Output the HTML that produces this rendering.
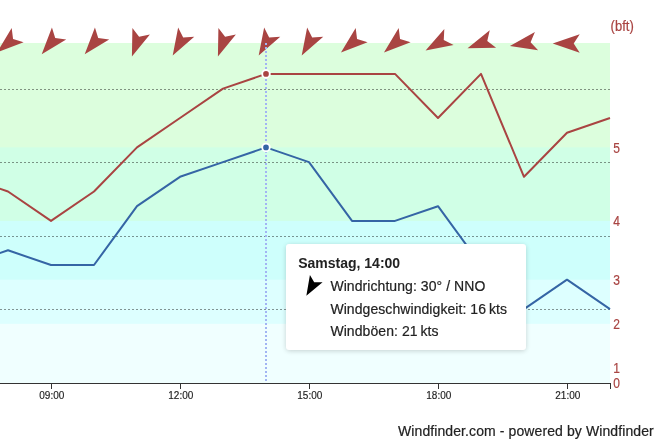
<!DOCTYPE html>
<html><head><meta charset="utf-8"><title>Windfinder</title>
<style>
html,body{margin:0;padding:0;background:#fff;overflow:hidden;}
body{width:659px;height:444px;}
svg{display:block;font-family:"Liberation Sans",Arial,Helvetica,sans-serif;}
</style></head><body>
<svg width="659" height="444" viewBox="0 0 659 444">
<defs><clipPath id="pc"><rect x="0" y="0" width="611" height="384"/></clipPath><filter id="sh" x="-10%" y="-10%" width="120%" height="130%"><feGaussianBlur stdDeviation="2.5"/></filter></defs>
<rect x="0" y="43.00" width="610" height="340.00" fill="#dcfedd"/>
<rect x="0" y="147.40" width="610" height="235.60" fill="#d0ffe6"/>
<rect x="0" y="220.90" width="610" height="162.10" fill="#cefffc"/>
<rect x="0" y="279.70" width="610" height="103.30" fill="#ddffff"/>
<rect x="0" y="323.80" width="610" height="59.20" fill="#f0ffff"/>
<line x1="0" y1="89.5" x2="610" y2="89.5" stroke="#000" stroke-opacity="0.42" stroke-width="1" stroke-dasharray="2,2"/>
<line x1="0" y1="162.5" x2="610" y2="162.5" stroke="#000" stroke-opacity="0.42" stroke-width="1" stroke-dasharray="2,2"/>
<line x1="0" y1="236.5" x2="610" y2="236.5" stroke="#000" stroke-opacity="0.42" stroke-width="1" stroke-dasharray="2,2"/>
<line x1="0" y1="309.5" x2="610" y2="309.5" stroke="#000" stroke-opacity="0.42" stroke-width="1" stroke-dasharray="2,2"/>
<g fill="#a94442">
<path d="M0,14 L9.3,-13 L0,-7 L-9.3,-13 Z" transform="translate(7.7,43.45) rotate(50)"/>
<path d="M0,14 L9.3,-13 L0,-7 L-9.3,-13 Z" transform="translate(50.7,43.45) rotate(40)"/>
<path d="M0,14 L9.3,-13 L0,-7 L-9.3,-13 Z" transform="translate(93.7,43.45) rotate(40)"/>
<path d="M0,14 L9.3,-13 L0,-7 L-9.3,-13 Z" transform="translate(136.7,43.45) rotate(20)"/>
<path d="M0,14 L9.3,-13 L0,-7 L-9.3,-13 Z" transform="translate(179.7,43.45) rotate(30)"/>
<path d="M0,14 L9.3,-13 L0,-7 L-9.3,-13 Z" transform="translate(222.7,43.45) rotate(20)"/>
<path d="M0,14 L9.3,-13 L0,-7 L-9.3,-13 Z" transform="translate(265.7,43.45) rotate(30)"/>
<path d="M0,14 L9.3,-13 L0,-7 L-9.3,-13 Z" transform="translate(308.7,43.45) rotate(30)"/>
<path d="M0,14 L9.3,-13 L0,-7 L-9.3,-13 Z" transform="translate(351.7,43.45) rotate(50)"/>
<path d="M0,14 L9.3,-13 L0,-7 L-9.3,-13 Z" transform="translate(394.7,43.45) rotate(50)"/>
<path d="M0,14 L9.3,-13 L0,-7 L-9.3,-13 Z" transform="translate(437.7,43.45) rotate(60)"/>
<path d="M0,14 L9.3,-13 L0,-7 L-9.3,-13 Z" transform="translate(480.7,43.45) rotate(70)"/>
<path d="M0,14 L9.3,-13 L0,-7 L-9.3,-13 Z" transform="translate(523.7,43.45) rotate(80)"/>
<path d="M0,14 L9.3,-13 L0,-7 L-9.3,-13 Z" transform="translate(566.7,43.45) rotate(90)"/>
</g>
<line x1="266" y1="43" x2="266" y2="383" stroke="#a2b5f3" stroke-width="2" stroke-dasharray="2,2"/>
<g clip-path="url(#pc)" fill="none" stroke-width="2" stroke-linejoin="round">
<polyline points="-35.0,176.8 8.0,191.5 51.0,220.9 94.0,191.5 137.0,147.4 180.0,118.0 223.0,88.6 266.0,73.9 309.0,73.9 352.0,73.9 395.0,73.9 438.0,118.0 481.0,73.9 524.0,176.8 567.0,132.7 610.0,118.0" stroke="#a94442"/>
<polyline points="-35.0,265.0 8.0,250.3 51.0,265.0 94.0,265.0 137.0,206.2 180.0,176.8 223.0,162.1 266.0,147.4 309.0,162.1 352.0,220.9 395.0,220.9 438.0,206.2 481.0,265.0 524.0,309.1 567.0,279.7 610.0,309.1" stroke="#3565a5"/>
</g>
<circle cx="266.0" cy="73.9" r="3.8" fill="#a94442" stroke="#fff" stroke-width="1.9"/>
<circle cx="266.0" cy="147.4" r="3.8" fill="#3565a5" stroke="#fff" stroke-width="1.9"/>
<line x1="0" y1="383.5" x2="611" y2="383.5" stroke="#333" stroke-width="1"/>
<line x1="51.5" y1="383" x2="51.5" y2="389" stroke="#333" stroke-width="1"/>
<line x1="180.5" y1="383" x2="180.5" y2="389" stroke="#333" stroke-width="1"/>
<line x1="309.5" y1="383" x2="309.5" y2="389" stroke="#333" stroke-width="1"/>
<line x1="438.5" y1="383" x2="438.5" y2="389" stroke="#333" stroke-width="1"/>
<line x1="567.5" y1="383" x2="567.5" y2="389" stroke="#333" stroke-width="1"/>
<line x1="610.5" y1="383" x2="610.5" y2="389" stroke="#333" stroke-width="1"/>
<text x="51.8" y="398.8" text-anchor="middle" font-size="10" fill="#222" stroke="#222" stroke-width="0.15">09:00</text>
<text x="180.8" y="398.8" text-anchor="middle" font-size="10" fill="#222" stroke="#222" stroke-width="0.15">12:00</text>
<text x="309.8" y="398.8" text-anchor="middle" font-size="10" fill="#222" stroke="#222" stroke-width="0.15">15:00</text>
<text x="438.8" y="398.8" text-anchor="middle" font-size="10" fill="#222" stroke="#222" stroke-width="0.15">18:00</text>
<text x="567.8" y="398.8" text-anchor="middle" font-size="10" fill="#222" stroke="#222" stroke-width="0.15">21:00</text>
<text transform="translate(613.2,387.7) scale(0.86,1)" font-size="14" fill="#a94442" stroke="#a94442" stroke-width="0.2">0</text>
<text transform="translate(613.2,373.0) scale(0.86,1)" font-size="14" fill="#a94442" stroke="#a94442" stroke-width="0.2">1</text>
<text transform="translate(613.2,328.9) scale(0.86,1)" font-size="14" fill="#a94442" stroke="#a94442" stroke-width="0.2">2</text>
<text transform="translate(613.2,284.8) scale(0.86,1)" font-size="14" fill="#a94442" stroke="#a94442" stroke-width="0.2">3</text>
<text transform="translate(613.2,226.0) scale(0.86,1)" font-size="14" fill="#a94442" stroke="#a94442" stroke-width="0.2">4</text>
<text transform="translate(613.2,152.5) scale(0.86,1)" font-size="14" fill="#a94442" stroke="#a94442" stroke-width="0.2">5</text>
<text transform="translate(610.6,30.6) scale(0.93,1)" font-size="14" fill="#a94442" stroke="#a94442" stroke-width="0.2">(bft)</text>
<rect x="286" y="245" width="240" height="106" rx="4" fill="#000" opacity="0.18" filter="url(#sh)"/>
<rect x="286" y="244" width="240" height="106" rx="3" fill="#fff"/>
<text x="298.2" y="268.1" font-size="14" font-weight="bold" fill="#222">Samstag, 14:00</text>
<path d="M0,9.9 L7.3,-9.9 L0,-5.8 L-7.3,-9.9 Z" fill="#000" transform="translate(311.3,287.2) rotate(30)"/>
<text x="330.4" y="290.5" font-size="14" fill="#222" stroke="#222" stroke-width="0.2" letter-spacing="0.07">Windrichtung: 30° / NNO</text>
<text x="330.4" y="314.4" font-size="14" fill="#222" stroke="#222" stroke-width="0.2" letter-spacing="0.07">Windgeschwindigkeit: 16&#8201;kts</text>
<text x="330.4" y="335.5" font-size="14" fill="#222" stroke="#222" stroke-width="0.2" letter-spacing="0.07">Windböen: 21&#8201;kts</text>
<text x="653.9" y="435.6" text-anchor="end" font-size="14" fill="#222" stroke="#222" stroke-width="0.2" letter-spacing="0.1">Windfinder.com - powered by Windfinder</text>
</svg>
</body></html>
